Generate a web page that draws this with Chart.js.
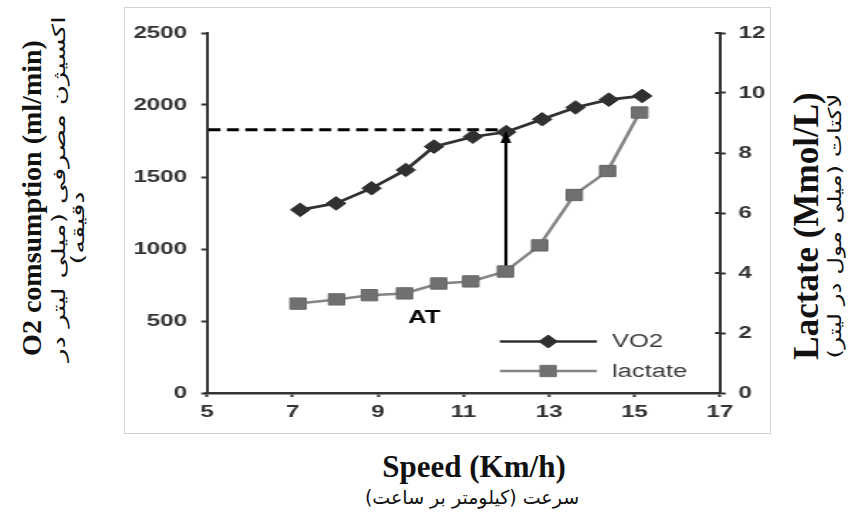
<!DOCTYPE html>
<html>
<head>
<meta charset="utf-8">
<script src="https://cdn.jsdelivr.net/npm/chart.js@4.4.0/dist/chart.umd.min.js"></script>
<style>
  html, body { margin: 0; padding: 0; background: #fff; }
  #page { position: relative; width: 852px; height: 519px; overflow: hidden; background: #fff; }
  #frame { position: absolute; left: 124px; top: 7px; width: 645px; height: 425px; border: 1px solid #d2d2d2; }
  .title { position: absolute; white-space: nowrap; color: #111; transform: translate(-50%, -50%); }
  .en { font-family: "Liberation Serif", "Times New Roman", serif; font-weight: bold; }
  .fa { font-family: "DejaVu Sans", sans-serif; direction: rtl; }
</style>
</head>
<body>
<div id="page">
  <div id="frame">
    <!-- drawn at 454px wide, shown 645px wide -->
    <canvas id="chart" width="454" height="425" style="display:block; width:645px; height:425px;"></canvas>
  </div>

  <div class="title en" style="left:32px; top:198px; font-size:28px; transform:translate(-50%,-50%) rotate(-90deg);">O2 comsumption (ml/min)</div>
  <div class="title fa" style="left:58px; top:189px; font-size:18px; transform:translate(-50%,-50%) rotate(-90deg) scaleX(1.53);">اکسیژن مصرفی (میلی لیتر در</div>
  <div class="title fa" style="left:77px; top:228px; font-size:18px; transform:translate(-50%,-50%) rotate(-90deg) scaleX(1.53);">دقیقه)</div>

  <div class="title en" style="left:807px; top:226px; font-size:35px; transform:translate(-50%,-50%) rotate(-90deg);">Lactate (Mmol/L)</div>
  <div class="title fa" style="left:834px; top:226px; font-size:18px; transform:translate(-50%,-50%) rotate(-90deg) scaleX(1.36);">لاکتات (میلی مول در لیتر)</div>

  <div class="title en" style="left:474px; top:467px; font-size:31px;">Speed (Km/h)</div>
  <div class="title fa" style="left:472px; top:497px; font-size:19px;">سرعت (کیلومتر بر ساعت)</div>
</div>

<script>
// speed (km/h) and measured values
const speedVO2 = [7.18, 8.02, 8.85, 9.65, 10.31, 11.22, 12.0, 12.84, 13.62, 14.4, 15.18];
const vo2 = [1272, 1317, 1422, 1549, 1711, 1780, 1812, 1901, 1983, 2037, 2063];
const speedLactate = [7.13, 8.03, 8.8, 9.62, 10.42, 11.17, 11.98, 12.78, 13.59, 14.37, 15.12];
const lactate = [2.98, 3.12, 3.26, 3.32, 3.65, 3.72, 4.05, 4.92, 6.6, 7.4, 9.35];

// anaerobic threshold marker
const atSpeed = 11.99;
const atVO2 = 1828;
const atLabel = 'AT';
const atLabelPos = { x: 10.08, y: 520 };

// axis ticks
const xTicks = [5, 7, 9, 11, 13, 15, 17];
const vo2Ticks = [0, 500, 1000, 1500, 2000, 2500];
const lactateTicks = [0, 2, 4, 6, 8, 10, 12];

const seriesNames = ['VO2', 'lactate'];

const vo2Color = '#303030';
const lactateLine = '#858585';
const lactateFill = '#707070';
const tickFont = { family: '"Liberation Sans", Arial, sans-serif', size: 17, weight: 'bold' };

function points(xs, ys) {
    return xs.map((x, i) => ({ x: x, y: ys[i] }));
}

const extras = {
    id: 'extras',
    beforeDatasetsDraw(chart) {
        const ctx = chart.ctx;
        const xs = chart.scales.x;
        const yv = chart.scales.y;
        const y = yv.getPixelForValue(atVO2);
        ctx.save();
        ctx.strokeStyle = '#000';
        ctx.lineWidth = 3;
        ctx.setLineDash([8.5, 4.5]);
        ctx.beginPath();
        ctx.moveTo(chart.chartArea.left + 1, y);
        ctx.lineTo(xs.getPixelForValue(atSpeed), y);
        ctx.stroke();
        ctx.restore();
    },
    afterDatasetsDraw(chart) {
        const ctx = chart.ctx;
        const area = chart.chartArea;
        const xs = chart.scales.x;
        const yv = chart.scales.y;
        const yl = chart.scales.y1;

        // arrow from the lactate break point up to VO2
        const ax = xs.getPixelForValue(atSpeed);
        const yBottom = yl.getPixelForValue(lactate[6]) - 6;
        const yTop = yv.getPixelForValue(vo2[6]);
        ctx.save();
        ctx.strokeStyle = '#000';
        ctx.fillStyle = '#000';
        ctx.lineWidth = 2.2;
        ctx.beginPath();
        ctx.moveTo(ax, yBottom);
        ctx.lineTo(ax, yTop + 8);
        ctx.stroke();
        ctx.beginPath();
        ctx.moveTo(ax, yTop - 1);
        ctx.lineTo(ax - 3.8, yTop + 11);
        ctx.lineTo(ax + 3.8, yTop + 11);
        ctx.closePath();
        ctx.fill();

        ctx.font = 'bold 18px "Liberation Sans", Arial, sans-serif';
        ctx.textAlign = 'center';
        ctx.textBaseline = 'middle';
        ctx.fillText(atLabel, xs.getPixelForValue(atLabelPos.x), yv.getPixelForValue(atLabelPos.y));

        // inner half of the right-hand tick marks
        ctx.strokeStyle = '#333';
        ctx.lineWidth = 2;
        lactateTicks.forEach(v => {
            const ty = yl.getPixelForValue(v);
            ctx.beginPath();
            ctx.moveTo(area.right - 3.5, ty);
            ctx.lineTo(area.right, ty);
            ctx.stroke();
        });

        // legend: line with marker, then name
        const lx0 = area.right - 155;
        const lx1 = area.right - 86.6;
        const mx = area.right - 121;
        const tx = area.right - 76;
        const rows = [
            { y: area.bottom - 51.5, line: vo2Color, fill: vo2Color, style: 'rectRot', r: 6.5 },
            { y: area.bottom - 22, line: lactateLine, fill: lactateFill, style: 'rect', r: 8 }
        ];
        rows.forEach((row, i) => {
            ctx.strokeStyle = row.line;
            ctx.lineWidth = 2.5;
            ctx.beginPath();
            ctx.moveTo(lx0, row.y);
            ctx.lineTo(lx1, row.y);
            ctx.stroke();
            ctx.fillStyle = row.fill;
            ctx.strokeStyle = row.fill;
            ctx.lineWidth = 1;
            Chart.helpers.drawPoint(ctx, { pointStyle: row.style, radius: row.r, rotation: 0, borderWidth: 1 }, mx, row.y);
            ctx.fillStyle = '#3c3c3c';
            ctx.font = '18px "Liberation Sans", Arial, sans-serif';
            ctx.textAlign = 'left';
            ctx.textBaseline = 'middle';
            ctx.fillText(seriesNames[i], tx, row.y + 1);
        });
        ctx.restore();
    }
};

function axisGrid() {
    return {
        display: true,
        drawOnChartArea: false,
        drawTicks: true,
        tickLength: 4,
        tickWidth: 2,
        tickColor: '#333'
    };
}

const plain = v => String(v);

new Chart(document.getElementById('chart'), {
    type: 'line',
    data: {
        datasets: [
            {
                label: seriesNames[0],
                data: points(speedVO2, vo2),
                yAxisID: 'y',
                borderColor: vo2Color,
                backgroundColor: vo2Color,
                borderWidth: 2.7,
                pointStyle: 'rectRot',
                pointRadius: 6.8,
                pointBorderWidth: 1,
                pointBackgroundColor: vo2Color,
                pointBorderColor: vo2Color,
                tension: 0
            },
            {
                label: seriesNames[1],
                data: points(speedLactate, lactate),
                yAxisID: 'y1',
                borderColor: lactateLine,
                backgroundColor: lactateFill,
                borderWidth: 2.5,
                pointStyle: 'rect',
                pointRadius: 8,
                pointBorderWidth: 1,
                pointBackgroundColor: lactateFill,
                pointBorderColor: '#666',
                tension: 0
            }
        ]
    },
    options: {
        responsive: false,
        animation: false,
        devicePixelRatio: 1,
        layout: { padding: { left: 0, right: 0, top: 25, bottom: 0 } },
        plugins: {
            legend: { display: false },
            tooltip: { enabled: false }
        },
        scales: {
            x: {
                type: 'linear',
                min: xTicks[0],
                max: xTicks[xTicks.length - 1],
                afterBuildTicks: s => { s.ticks = xTicks.map(v => ({ value: v })); },
                afterFit: s => { s.height = 40; },
                grid: axisGrid(),
                border: { display: true, color: '#333', width: 2.5 },
                ticks: { color: '#333', font: tickFont, padding: 5, maxRotation: 0, autoSkip: false, callback: plain }
            },
            y: {
                position: 'left',
                min: vo2Ticks[0],
                max: vo2Ticks[vo2Ticks.length - 1],
                afterBuildTicks: s => { s.ticks = vo2Ticks.map(v => ({ value: v })); },
                afterFit: s => { s.width = 57.7; },
                grid: axisGrid(),
                border: { display: true, color: '#333', width: 2 },
                ticks: { color: '#333', font: tickFont, padding: 10, callback: plain }
            },
            y1: {
                position: 'right',
                min: lactateTicks[0],
                max: lactateTicks[lactateTicks.length - 1],
                afterBuildTicks: s => { s.ticks = lactateTicks.map(v => ({ value: v })); },
                afterFit: s => { s.width = 35.2; },
                grid: axisGrid(),
                border: { display: true, color: '#333', width: 2 },
                ticks: { color: '#333', font: tickFont, padding: 9, callback: plain }
            }
        }
    },
    plugins: [extras]
});
</script>
</body>
</html>
